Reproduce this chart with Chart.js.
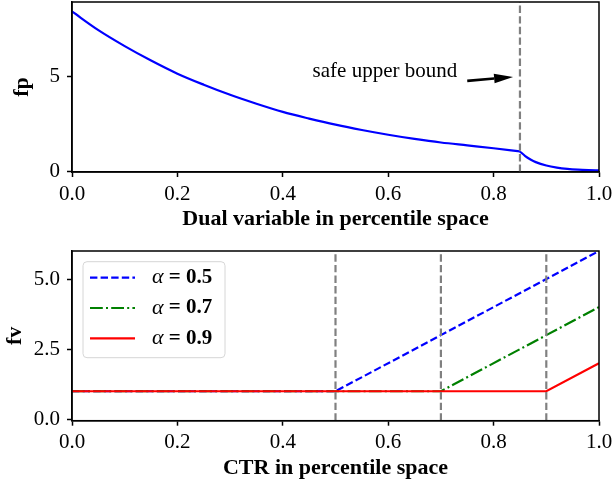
<!DOCTYPE html>
<html><head><meta charset="utf-8">
<script src="https://cdn.jsdelivr.net/npm/chart.js@4/dist/chart.umd.min.js"></script>
<style>
html,body{margin:0;padding:0;background:#fff;}
#c1{position:absolute;left:0;top:0;}
#c2{position:absolute;left:0;top:240px;}
</style></head><body>
<canvas id="c1" width="613" height="240"></canvas>
<canvas id="c2" width="613" height="245"></canvas>
<script>
// ---------- data ----------
const dualX      = [0, 0.05, 0.10, 0.15, 0.20, 0.25, 0.30, 0.35, 0.40, 0.45, 0.50, 0.55, 0.60, 0.65, 0.70, 0.75, 0.80, 0.85];
const fpValues   = [8.40, 7.42, 6.58, 5.82, 5.13, 4.55, 4.02, 3.55, 3.12, 2.77, 2.45, 2.17, 1.92, 1.70, 1.51, 1.36, 1.21, 1.04];
const dualXTail  = [0.85, 0.86, 0.87, 0.88, 0.90, 0.92, 0.94, 0.96, 0.98, 1.00];
const fpTail     = [1.04, 0.80, 0.62, 0.48, 0.30, 0.19, 0.12, 0.08, 0.06, 0.05];
const safeBound  = [0.85];
const annotText  = 'safe upper bound';
const annotTextAt = [0.731, 4.93];
const arrowTail  = [0.75, 4.75];
const arrowTip   = [0.837, 4.96];

const ctrX       = [0, 0.5, 0.7, 0.9, 1.0];
const fvAlpha05  = [1, 1, 3, 5, 6];
const fvAlpha07  = [1, 1, 1, 3, 4];
const fvAlpha09  = [1, 1, 1, 1, 2];
const alphaNames = ['0.5', '0.7', '0.9'];
const alphaBounds = [0.5, 0.7, 0.9];

const xTicks   = [0, 0.2, 0.4, 0.6, 0.8, 1.0];
const fpTicks  = [0, 5];
const fvTicks  = [0, 2.5, 5];
const fpRange  = [-0.04, 8.9];
const fvRange  = [-0.05, 6];

// ---------- helpers ----------
const SERIF = '"Liberation Serif", "Times New Roman", serif';
const pts = (xs, ys) => xs.map((x, i) => ({x, y: ys[i]}));
const noPad = s => { s.paddingLeft = 0; s.paddingRight = 0; s.paddingTop = 0; s.paddingBottom = 0; };

function xScale(title, height, titlePad){
  return {
    type:'linear', min:0, max:1,
    afterBuildTicks: s => { s.ticks = xTicks.map(v => ({value:v})); },
    afterFit: s => { s.height = height; noPad(s); },
    ticks:{callback:v => Number(v).toFixed(1), font:{family:SERIF, size:21}, color:'#000', padding:4.5, maxRotation:0, autoSkip:false},
    grid:{display:true, drawOnChartArea:false, drawTicks:true, tickLength:5, tickColor:'#000', tickWidth:1.5},
    border:{display:true, color:'#000', width:1.5},
    title:{display:true, text:title, color:'#000', font:{family:SERIF, size:22, weight:'bold'}, padding:{top:0, bottom:titlePad}}
  };
}
function yScale(title, range, ticks, fmt, titlePad){
  return {
    type:'linear', min:range[0], max:range[1],
    afterBuildTicks: s => { s.ticks = ticks.map(v => ({value:v})); },
    afterFit: s => { s.width = 72; noPad(s); },
    ticks:{callback:fmt, font:{family:SERIF, size:21}, color:'#000', padding:7, autoSkip:false},
    grid:{display:true, drawOnChartArea:false, drawTicks:true, tickLength:5, tickColor:'#000', tickWidth:1.5},
    border:{display:true, color:'#000', width:1.5},
    title:{display:true, text:title, color:'#000', font:{family:SERIF, size:22, weight:'bold'}, padding:{top:titlePad, bottom:0}}
  };
}
const framePlugin = {
  id:'frame',
  afterDraw(chart){
    const {ctx, chartArea:a} = chart;
    ctx.save(); ctx.strokeStyle='#000'; ctx.lineWidth=1.5;
    ctx.strokeRect(a.left, a.top, a.right - a.left, a.bottom - a.top);
    ctx.restore();
  }
};
const annotPlugin = {
  id:'annot',
  afterDatasetsDraw(chart){
    const {ctx, scales:{x, y}} = chart;
    ctx.save();
    ctx.font = '21px ' + SERIF; ctx.fillStyle = '#000';
    ctx.textAlign = 'right'; ctx.textBaseline = 'alphabetic';
    ctx.fillText(annotText, x.getPixelForValue(annotTextAt[0]), y.getPixelForValue(annotTextAt[1]));
    const x0 = x.getPixelForValue(arrowTail[0]), y0 = y.getPixelForValue(arrowTail[1]);
    const x1 = x.getPixelForValue(arrowTip[0]),  y1 = y.getPixelForValue(arrowTip[1]);
    const ang = Math.atan2(y1 - y0, x1 - x0), hl = 19, hw = 4.8;
    const bx = x1 - hl*Math.cos(ang), by = y1 - hl*Math.sin(ang);
    ctx.strokeStyle = '#000'; ctx.lineWidth = 2.6;
    ctx.beginPath(); ctx.moveTo(x0, y0); ctx.lineTo(bx, by); ctx.stroke();
    ctx.beginPath(); ctx.moveTo(x1, y1);
    ctx.lineTo(bx - hw*Math.sin(ang), by + hw*Math.cos(ang));
    ctx.lineTo(bx + hw*Math.sin(ang), by - hw*Math.cos(ang));
    ctx.closePath(); ctx.fillStyle = '#000'; ctx.fill();
    ctx.restore();
  }
};
const legendPlugin = {
  id:'innerLegend',
  afterDraw(chart){
    const {ctx, chartArea:a} = chart;
    const bx = a.left + 11, by = a.top + 10.7, bw = 142, bh = 96, r = 4;
    ctx.save();
    ctx.beginPath(); ctx.roundRect(bx, by, bw, bh, r);
    ctx.fillStyle = 'rgba(255,255,255,0.8)'; ctx.fill();
    ctx.strokeStyle = '#d6d6d6'; ctx.lineWidth = 1; ctx.stroke();
    const sets = chart.data.datasets.filter(d => d.legendLabel);
    sets.forEach((d, i) => {
      const yy = by + 16 + i*30.3;
      ctx.beginPath(); ctx.setLineDash(d.borderDash || []);
      ctx.strokeStyle = d.borderColor; ctx.lineWidth = d.borderWidth;
      ctx.moveTo(bx + 7, yy); ctx.lineTo(bx + 52, yy); ctx.stroke();
      ctx.setLineDash([]);
      ctx.fillStyle = '#000'; ctx.textBaseline = 'middle'; ctx.textAlign = 'left';
      ctx.font = 'italic 22px ' + SERIF;
      const tx = bx + 69;
      ctx.fillText('\u03B1', tx, yy);
      const w = ctx.measureText('\u03B1').width;
      ctx.font = 'bold 21px ' + SERIF;
      ctx.fillText(' = ' + d.legendLabel, tx + w, yy);
    });
    ctx.restore();
  }
};

// ---------- top chart ----------
new Chart(document.getElementById('c1'), {
  type:'line',
  data:{datasets:[
    {data:pts(dualX, fpValues), borderColor:'#0000ff', borderWidth:2.2, pointRadius:0, cubicInterpolationMode:'monotone', order:1},
    {data:pts(dualXTail, fpTail), borderColor:'#0000ff', borderWidth:2.2, pointRadius:0, cubicInterpolationMode:'monotone', order:1},
    ...safeBound.map(b => ({data:pts([b, b], fpRange), borderColor:'#808080', borderWidth:2.2, borderDash:[7.4, 3.2], pointRadius:0, order:0}))
  ]},
  options:{
    responsive:false, animation:false, events:[],
    layout:{padding:{left:0, right:14, top:2, bottom:0}},
    plugins:{legend:{display:false}, tooltip:{enabled:false}},
    scales:{
      x:xScale('Dual variable in percentile space', 68, 7.3),
      y:yScale('fp', fpRange, fpTicks, v => String(v), 8.8)
    }
  },
  plugins:[framePlugin, annotPlugin]
});

// ---------- bottom chart ----------
new Chart(document.getElementById('c2'), {
  type:'line',
  data:{datasets:[
    {legendLabel:alphaNames[0], data:pts(ctrX, fvAlpha05), borderColor:'#0000ff', borderWidth:2.2, borderDash:[7.4, 3.2], pointRadius:0, order:3},
    {legendLabel:alphaNames[1], data:pts(ctrX, fvAlpha07), borderColor:'#008000', borderWidth:2.2, borderDash:[12.8, 3.2, 2, 3.2], pointRadius:0, order:2},
    {legendLabel:alphaNames[2], data:pts(ctrX, fvAlpha09), borderColor:'#ff0000', borderWidth:2.2, pointRadius:0, order:1},
    ...alphaBounds.map(b => ({data:pts([b, b], fvRange), borderColor:'#808080', borderWidth:2.2, borderDash:[7.4, 3.2], pointRadius:0, order:0}))
  ]},
  options:{
    responsive:false, animation:false, events:[],
    layout:{padding:{left:0, right:14, top:11, bottom:0}},
    plugins:{legend:{display:false}, tooltip:{enabled:false}},
    scales:{
      x:xScale('CTR in percentile space', 64.3, 3.8),
      y:yScale('fv', fvRange, fvTicks, v => Number(v).toFixed(1), 2.1)
    }
  },
  plugins:[framePlugin, legendPlugin]
});
</script>
</body></html>
